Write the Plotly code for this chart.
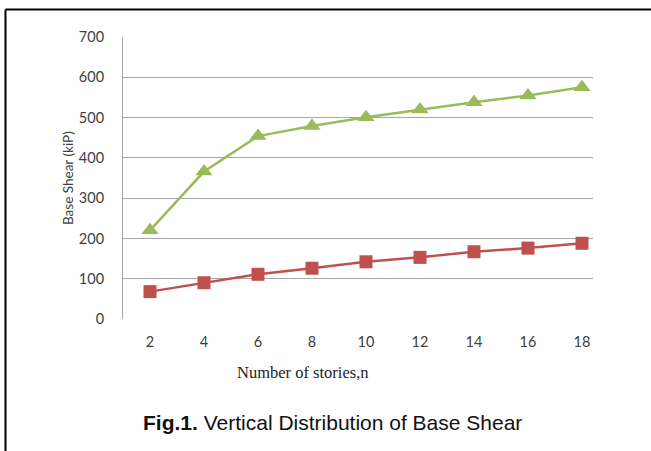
import plotly.graph_objects as go

stories = ["2", "4", "6", "8", "10", "12", "14", "16", "18"]
upper_shear = [220, 366, 454, 479, 501, 520, 538, 555, 575]
lower_shear = [68, 90, 111, 126, 142, 153, 167, 176, 188]
y_ticks = [0, 100, 200, 300, 400, 500, 600, 700]

# plot area in pixels: x 123..593, y 37..319
PX0, PW, PY0, PH = 123, 470, 319, 282


def px(x):
    return (x - PX0) / PW


def py(y):
    return (PY0 - y) / PH


fig = go.Figure()
fig.add_trace(go.Scatter(
    x=stories, y=lower_shear, mode="lines+markers",
    line=dict(color="#C0504D", width=2.5),
    marker=dict(symbol="square", size=13, color="#C0504D"),
    showlegend=False,
))
fig.add_trace(go.Scatter(
    x=stories, y=upper_shear, mode="lines+markers",
    line=dict(color="#9BBB59", width=2.5),
    marker=dict(symbol="triangle-up", size=15, color="#9BBB59"),
    showlegend=False,
))

tick_font = dict(family="Lato, Open Sans, sans-serif", size=14.5, color="#404040")

fig.update_layout(
    width=651, height=451,
    margin=dict(l=123, r=58, t=37, b=132),
    paper_bgcolor="white", plot_bgcolor="white",
    xaxis=dict(
        type="category", range=[-0.5, 8.204],
        showgrid=False, showline=False, zeroline=False,
        tickfont=tick_font, ticks="", ticklabelstandoff=12,
    ),
    yaxis=dict(
        range=[0, 700], tickvals=y_ticks,
        showgrid=True, gridcolor="#A6A6A6", gridwidth=1,
        showline=True, linecolor="#A6A6A6", linewidth=1,
        zeroline=False,
        tickfont=tick_font, ticks="", ticklabelstandoff=15,
    ),
    annotations=[
        dict(text="Number of stories,n",
             xref="paper", yref="paper", x=px(303), y=py(372),
             xanchor="center", yanchor="middle", showarrow=False,
             font=dict(family="Liberation Serif, serif", size=16.5, color="#222222")),
        dict(text="Base Shear (kiP)", textangle=-90,
             xref="paper", yref="paper", x=px(68), y=py(178),
             xanchor="center", yanchor="middle", showarrow=False,
             font=dict(family="Lato, Open Sans, sans-serif", size=13.5, color="#404040")),
        dict(text="<b>Fig.1.</b> Vertical Distribution of Base Shear",
             xref="paper", yref="paper", x=px(332), y=py(422),
             xanchor="center", yanchor="middle", showarrow=False,
             font=dict(family="Liberation Sans, Arial, sans-serif", size=21, color="#111111")),
    ],
    shapes=[
        dict(type="line", xref="paper", yref="paper",
             x0=px(5.5), x1=px(652), y0=py(9.5), y1=py(9.5),
             line=dict(color="black", width=2)),
        dict(type="line", xref="paper", yref="paper",
             x0=px(5.5), x1=px(5.5), y0=py(9.5), y1=py(452),
             line=dict(color="black", width=2)),
    ],
)

fig.write_html("out.html")
